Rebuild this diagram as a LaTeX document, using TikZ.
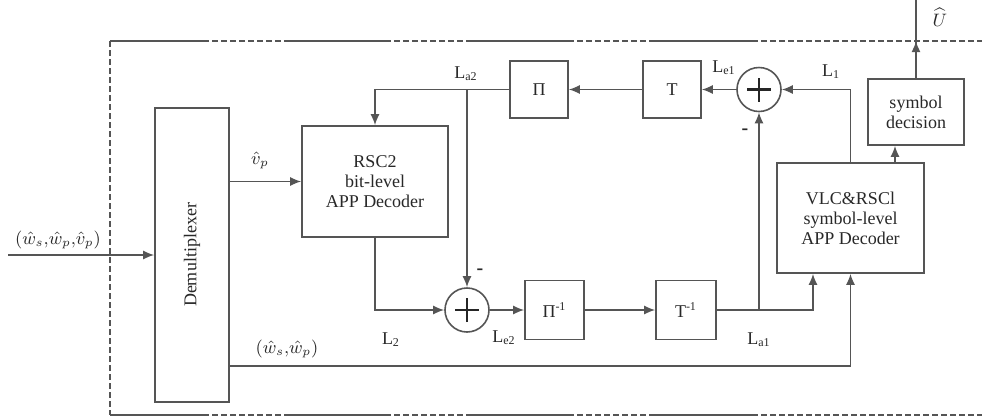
\documentclass[tikz,border=0pt]{standalone}
\usepackage{fontspec}
\setmainfont{Liberation Serif}
\usetikzlibrary{arrows.meta}
\definecolor{lc}{RGB}{85,85,85}
\definecolor{tc}{RGB}{40,40,40}
\begin{document}
\begin{tikzpicture}[x=0.5pt,y=-0.5pt,
  font=\fontsize{9}{10}\selectfont, color=lc, line width=0.8pt,
  box/.style={draw=lc, line width=0.8pt, align=center, inner sep=0pt, text=tc},
  sumnode/.style={circle, draw=lc, line width=0.8pt, minimum size=22pt, inner sep=0pt,
    path picture={\draw[black!85, line width=1.2pt]
      ([xshift=-6pt]path picture bounding box.center) -- ([xshift=6pt]path picture bounding box.center)
      ([yshift=-6pt]path picture bounding box.center) -- ([yshift=6pt]path picture bounding box.center);}},
  arr/.style={-{Latex[length=5.5pt,width=4.5pt]}},
  lbl/.style={inner sep=0pt, text=tc},
  dashseg/.style={dash pattern=on 3pt off 1.5pt}]
\useasboundingbox (0,0) rectangle (982,419);
% frame
\draw[dashseg] (110,41) -- (110,415);
\foreach \a/\b in {110/203,288/385,470/568,655/752}
  {\draw (\a,41) -- (\b,41); \draw (\a,415) -- (\b,415);}
\foreach \a/\b in {203/288,385/470,568/655,752/982}
  {\draw[dashseg] (\a,41) -- (\b,41); \draw[dashseg] (\a,415) -- (\b,415);}
% nodes
\node[box, minimum width=37pt, minimum height=147pt] (demux) at (192,255) {\rotatebox{90}{Demultiplexer}};
\node[box, minimum width=73pt, minimum height=55.5pt] (rsc2) at (375,181.5) {RSC2\\bit-level\\APP Decoder};
\node[box, minimum width=29pt, minimum height=28.5pt] (pi) at (539,89.5) {Π};
\node[box, minimum width=29pt, minimum height=28.5pt] (t) at (672,89.5) {T};
\node[sumnode] (sum1) at (759,89.5) {};
\node[box, minimum width=73.5pt, minimum height=55pt] (vlc) at (850.5,218) {VLC\&RSCl\\symbol-level\\APP Decoder};
\node[box, minimum width=48pt, minimum height=33pt] (sd) at (916,112) {symbol\\decision};
\node[sumnode] (sum2) at (467,310) {};
\node[box, minimum width=29.5pt, minimum height=29.5pt] (pinv) at (554.5,310) {Π\textsuperscript{-1}};
\node[box, minimum width=30pt, minimum height=29.5pt] (tinv) at (686,310) {T\textsuperscript{-1}};
\coordinate (in) at (8,255);
\coordinate (out) at (916,0);
\coordinate (la1r) at (813,310);
\coordinate (wr) at (850.5,366);
% connectors
\draw[arr] (in) -- (demux.west);
\draw[arr] (demux.east |- rsc2.west) -- (rsc2.west);
\draw[arr] (t.west) -- (pi.east);
\draw[arr] (sum1.west) -- (t.east);
\draw[arr] (vlc.north) -- (vlc.north |- sum1.east) -- (sum1.east);
\draw[arr] (pi.west) -- (rsc2.north |- pi.west) -- (rsc2.north);
\draw[arr] (sum2.north |- pi.west) -- (sum2.north);
\draw[arr] (rsc2.south) -- (rsc2.south |- sum2.west) -- (sum2.west);
\draw[arr] (sum2.east) -- (pinv.west);
\draw[arr] (pinv.east) -- (tinv.west);
\draw[arr] (tinv.east) -- (la1r) -- (la1r |- vlc.south);
\draw[arr] (sum1.south |- tinv.east) -- (sum1.south);
\draw[arr] (demux.east |- wr) -- (wr) -- (vlc.south);
\draw[arr] (vlc.north -| 895,0) -- (sd.south -| 895,0);
\draw[arr] (sd.north) -- (sd.north |- 0,41);
\draw (sd.north) -- (out);
% labels
\node[lbl] (l1) at (58,240) {$(\hat{w}_s{,}\hat{w}_p{,}\hat{v}_p)$};
\node[lbl] (l2) at (260,160) {$\hat{v}_p$};
\node[lbl] (l3) at (466,74) {L\textsubscript{a2}};
\node[lbl] (l4) at (724,68) {L\textsubscript{e1}};
\node[lbl] (l5) at (831,72) {L\textsubscript{1}};
\node[lbl, font=\bfseries\fontsize{10}{10}\selectfont] (m1) at (745,132) {-};
\node[lbl, font=\bfseries\fontsize{10}{10}\selectfont] (m2) at (480,272) {-};
\node[lbl] (l6) at (391,340) {L\textsubscript{2}};
\node[lbl] (l7) at (504,338) {L\textsubscript{e2}};
\node[lbl] (l8) at (759,340) {L\textsubscript{a1}};
\node[lbl] (l9) at (287,349) {$(\hat{w}_s{,}\hat{w}_p)$};
\node[lbl] (l10) at (940,17) {$\widehat{U}$};
\end{tikzpicture}
\end{document}
